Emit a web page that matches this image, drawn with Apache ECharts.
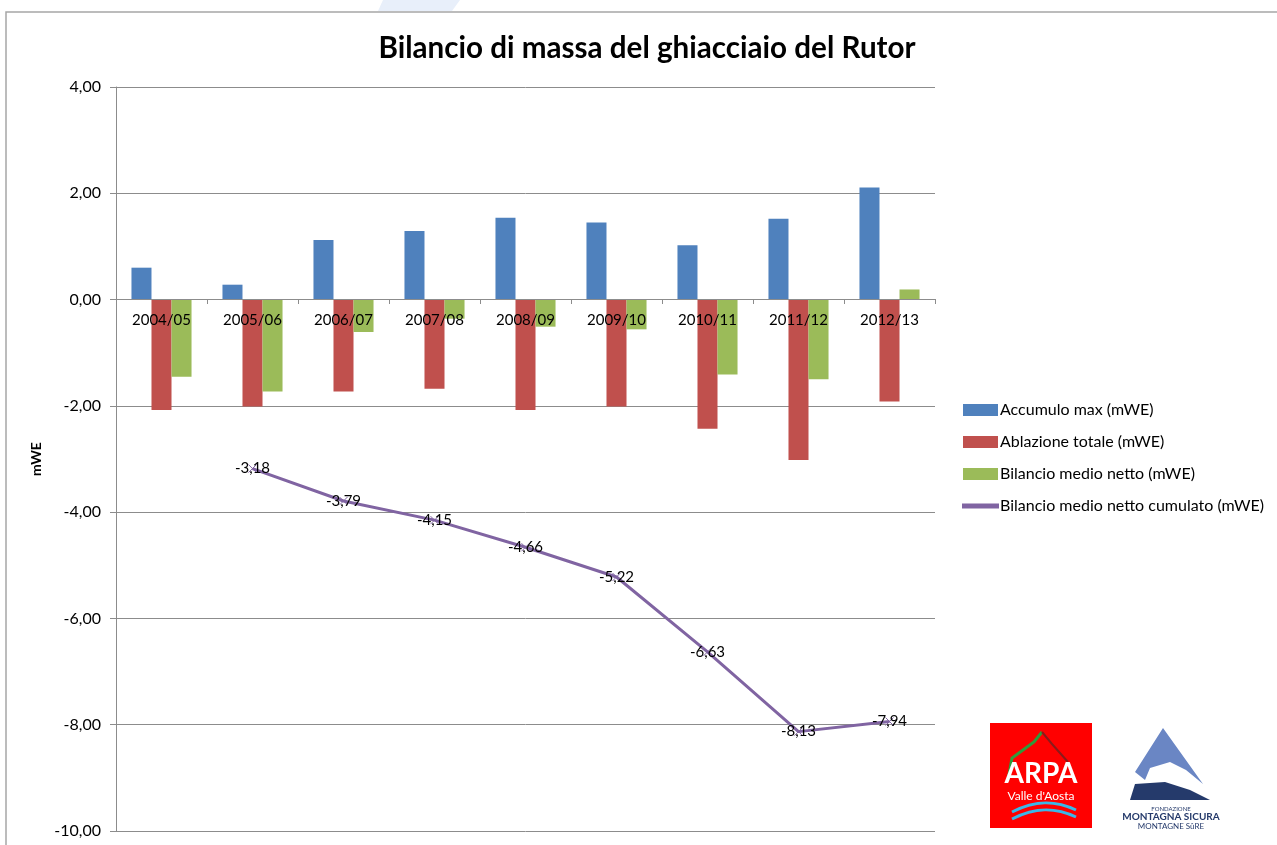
<!DOCTYPE html>
<html>
<head>
<meta charset="utf-8">
<title>Bilancio di massa del ghiacciaio del Rutor</title>
<script src="https://cdn.jsdelivr.net/npm/echarts@6/dist/echarts.min.js"></script>
<style>
  html, body { margin: 0; padding: 0; background: #fff; }
  #chart { width: 1277px; height: 845px; }
</style>
</head>
<body>
<div id="chart"></div>
<script>
  // data
  const years = ['2004/05', '2005/06', '2006/07', '2007/08', '2008/09', '2009/10', '2010/11', '2011/12', '2012/13'];
  const accumulo = [0.60, 0.28, 1.12, 1.29, 1.54, 1.45, 1.02, 1.52, 2.11];
  const ablazione = [-2.08, -2.01, -1.73, -1.68, -2.08, -2.01, -2.43, -3.02, -1.92];
  const bilancio = [-1.45, -1.73, -0.61, -0.36, -0.51, -0.56, -1.41, -1.50, 0.19];
  const cumulato = [null, -3.18, -3.79, -4.15, -4.66, -5.22, -6.63, -8.13, -7.94];

  const FONT = 'Lato';
  const fmt = v => v.toFixed(2).replace('.', ',');
  const crossPath = 'path://M0,0L10,10M10,0L0,10';
  const GRAY = '#8c8c8c';

  const chart = echarts.init(document.getElementById('chart'));
  const option = {
    animation: false,
    textStyle: { fontFamily: FONT },
    title: {
      text: 'Bilancio di massa del ghiacciaio del Rutor',
      left: 642,
      textAlign: 'center',
      top: 28,
      textStyle: { fontSize: 29.6, fontWeight: 'bold', color: '#000', fontFamily: FONT }
    },
    graphic: [
      // outer frame
      { type: 'rect', shape: { x: 6, y: 12, width: 1290, height: 860 }, style: { fill: 'none', stroke: '#a6a6a6', lineWidth: 1.5 }, silent: true },
      // light shape behind the top edge
      { type: 'polygon', shape: { points: [[383, 0], [460, 0], [452, 11], [378, 11]] }, style: { fill: '#e8effa' }, silent: true },
      // ARPA logo
      { type: 'rect', shape: { x: 990, y: 723, width: 102, height: 105 }, style: { fill: '#ff0000' } },
      { type: 'polyline', shape: { points: [[1008, 780], [1012, 758], [1023, 750], [1034, 742], [1042, 732]] }, style: { stroke: '#2e9b3b', lineWidth: 3, fill: 'none' } },
      { type: 'polyline', shape: { points: [[1042, 732], [1052, 744], [1068, 762]] }, style: { stroke: '#8a1a1a', lineWidth: 2, fill: 'none' } },
      { type: 'text', style: { x: 1041, y: 760, text: 'ARPA', fill: '#fff', font: 'bold 28px ' + FONT, textAlign: 'center' } },
      { type: 'text', style: { x: 1041, y: 790, text: "Valle d'Aosta", fill: '#fff', font: '12px ' + FONT, textAlign: 'center' } },
      { type: 'bezierCurve', shape: { x1: 1012, y1: 812, x2: 1076, y2: 810, cpx1: 1035, cpy1: 800, cpx2: 1055, cpy2: 800 }, style: { stroke: '#3ab7e8', lineWidth: 3, fill: 'none' } },
      { type: 'bezierCurve', shape: { x1: 1012, y1: 819, x2: 1076, y2: 817, cpx1: 1035, cpy1: 807, cpx2: 1055, cpy2: 807 }, style: { stroke: '#3ab7e8', lineWidth: 3, fill: 'none' } },
      // Fondazione Montagna Sicura logo
      { type: 'polygon', shape: { points: [[1163, 728], [1203, 784], [1186, 770], [1170, 762], [1150, 768], [1145, 780], [1135, 772]] }, style: { fill: '#6a86c4' } },
      { type: 'polygon', shape: { points: [[1130, 800], [1135, 784], [1165, 782], [1190, 790], [1210, 800]] }, style: { fill: '#253a6b' } },
      { type: 'text', style: { x: 1171, y: 806, text: 'FONDAZIONE', fill: '#253a6b', font: '6px ' + FONT, textAlign: 'center' } },
      { type: 'text', style: { x: 1171, y: 812, text: 'MONTAGNA SICURA', fill: '#253a6b', font: 'bold 10px ' + FONT, textAlign: 'center' } },
      { type: 'text', style: { x: 1171, y: 822, text: 'MONTAGNE SûRE', fill: '#253a6b', font: '8px ' + FONT, textAlign: 'center' } }
    ],
    legend: {
      orient: 'vertical',
      left: 962,
      top: 402,
      padding: 0,
      itemWidth: 35,
      itemHeight: 12,
      itemGap: 16,
      icon: 'rect',
      textStyle: { fontSize: 16, color: '#000', fontFamily: FONT, padding: [0, 0, 0, -3] },
      data: [
        { name: 'Accumulo max (mWE)' },
        { name: 'Ablazione totale (mWE)' },
        { name: 'Bilancio medio netto (mWE)' },
        { name: 'Bilancio medio netto cumulato (mWE)', icon: 'path://M0,4.5L35,4.5L35,7.5L0,7.5Z' }
      ]
    },
    grid: [
      // plot area
      { left: 116, right: 342, top: 87, bottom: 14, outerBoundsMode: 'none', containLabel: false },
      // upper part only, to put the category axis on the zero line
      { left: 116, right: 342, top: 87, height: 212, outerBoundsMode: 'none', containLabel: false }
    ],
    xAxis: [
      {
        type: 'category', gridIndex: 0, data: years,
        axisLine: { show: false }, axisTick: { show: false }, axisLabel: { show: false }
      },
      {
        type: 'category', gridIndex: 1, data: years, z: 10,
        axisLine: { lineStyle: { color: GRAY, width: 1 } },
        axisTick: { show: true, length: 5, lineStyle: { color: GRAY } },
        axisLabel: { color: '#000', fontSize: 15, margin: 14, fontFamily: FONT }
      }
    ],
    yAxis: [
      {
        type: 'value', gridIndex: 0,
        min: -10,
        max: 4,
        interval: 2,
        name: 'mWE',
        nameLocation: 'middle',
        nameGap: 66,
        nameRotate: 90,
        nameTextStyle: { fontWeight: 'bold', fontSize: 14, color: '#000', fontFamily: FONT },
        axisLine: { show: true, lineStyle: { color: GRAY, width: 1 } },
        axisTick: { show: true, length: 6, lineStyle: { color: GRAY } },
        axisLabel: { color: '#000', fontSize: 16, margin: 15, formatter: fmt, fontFamily: FONT },
        splitLine: { lineStyle: { color: GRAY, width: 1 } }
      },
      { type: 'value', gridIndex: 1, min: 0, max: 1, show: false }
    ],
    series: [
      {
        name: 'Accumulo max (mWE)', type: 'bar', data: accumulo,
        barGap: '0%', barCategoryGap: '34%',
        itemStyle: { color: '#4f81bd' }
      },
      {
        name: 'Ablazione totale (mWE)', type: 'bar', data: ablazione,
        barGap: '0%', barCategoryGap: '34%',
        itemStyle: { color: '#c0504d' }
      },
      {
        name: 'Bilancio medio netto (mWE)', type: 'bar', data: bilancio,
        barGap: '0%', barCategoryGap: '34%',
        itemStyle: { color: '#9bbb59' }
      },
      {
        name: 'Bilancio medio netto cumulato (mWE)', type: 'line', data: cumulato,
        symbol: crossPath, symbolSize: 8,
        lineStyle: { color: '#8064a2', width: 3 },
        itemStyle: { color: '#8064a2', borderColor: '#8064a2', borderWidth: 1 },
        label: {
          show: true, position: 'inside', color: '#000', fontSize: 15, fontFamily: FONT,
          formatter: p => fmt(p.value)
        },
        z: 5
      }
    ]
  };
  chart.setOption(option);
</script>
</body>
</html>
